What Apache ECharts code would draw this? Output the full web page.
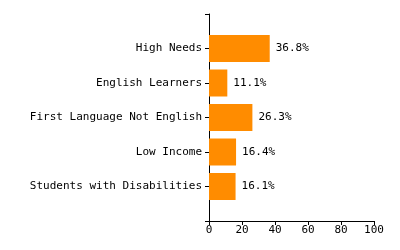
<!DOCTYPE html>
<html lang="en">
<head>
    <meta charset="UTF-8">
    <title>Student Groups</title>
    <script src="https://cdnjs.cloudflare.com/ajax/libs/echarts/6.0.0/echarts.min.js"></script>
    <style>
        html, body {margin: 0; padding: 0; background: #fff;}
    </style>
</head>
<body>
<div id="chart" style="width: 400px; height: 250px;"></div>

<script>
    // bottom to top, padded with blank slots at both ends
    var categories = ['', 'Students with Disabilities', 'Low Income', 'First Language Not English', 'English Learners', 'High Needs', ''];
    var percents = [null, 16.1, 16.4, 26.3, 11.1, 36.8, null];
    var xTicks = [0, 100, 20];

    var font = '"DejaVu Sans Mono", monospace';
    var chart = echarts.init(document.getElementById('chart'));

    var option = {
        animation: false,
        grid: {left: 209, right: 26, top: 14, bottom: 29, containLabel: false},
        xAxis: {
            type: 'value',
            min: xTicks[0],
            max: xTicks[1],
            interval: xTicks[2],
            axisLine: {show: true, lineStyle: {color: '#000', width: 1}},
            axisTick: {show: true, length: 4, lineStyle: {color: '#000'}},
            axisLabel: {color: '#000', fontFamily: font, fontSize: 11, margin: 4},
            splitLine: {show: false}
        },
        yAxis: {
            type: 'category',
            data: categories,
            boundaryGap: false,
            axisLine: {show: true, lineStyle: {color: '#000', width: 1}},
            axisTick: {show: true, length: 4, alignWithLabel: true, lineStyle: {color: '#000'}},
            axisLabel: {color: '#000', fontFamily: font, fontSize: 11, margin: 7, interval: 0},
            splitLine: {show: false}
        },
        series: [{
            type: 'bar',
            data: percents,
            barWidth: 27,
            itemStyle: {color: '#FF8C00'},
            label: {
                show: true,
                position: 'right',
                distance: 6,
                color: '#000',
                fontFamily: font,
                fontSize: 11,
                formatter: function (p) { return p.value.toFixed(1) + '%'; }
            }
        }]
    };

    chart.setOption(option);
</script>
</body>
</html>
